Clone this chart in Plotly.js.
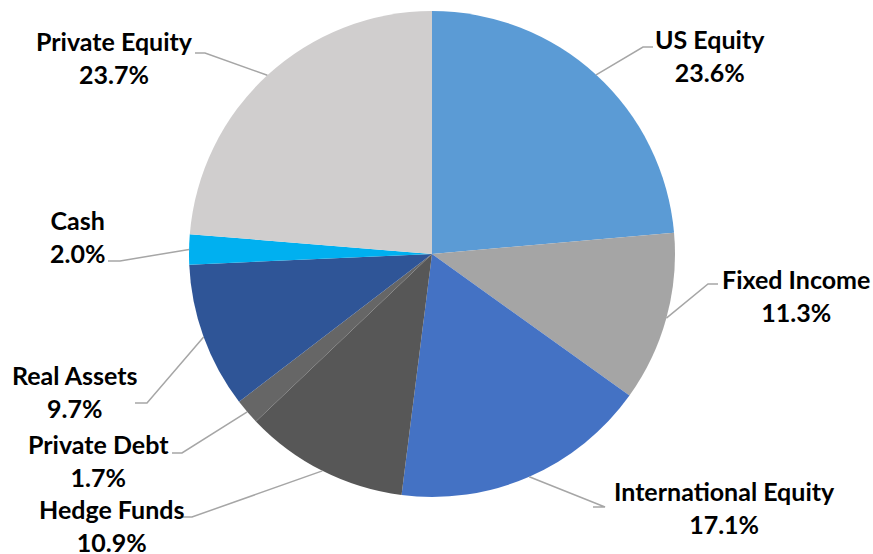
<!DOCTYPE html>
<html>
<head>
<meta charset="utf-8">
<script src="https://cdn.plot.ly/plotly-3.0.1.min.js"></script>
<style>html,body{margin:0;padding:0;background:#fff;}#chart{width:873px;height:554px;}</style>
</head>
<body>
<div id="chart"></div>
<script>
// ---- data ----
const categories = ["US Equity", "Fixed Income", "International Equity", "Hedge Funds",
                    "Private Debt", "Real Assets", "Cash", "Private Equity"];
const shares = [23.6, 11.3, 17.1, 10.9, 1.7, 9.7, 2.0, 23.7];

// ---- styles ----
const sliceColors = ["#5B9BD5", "#A5A5A5", "#4472C4", "#575757",
                     "#666666", "#2F5597", "#00B0F0", "#D0CECE"];

// ---- layout (pixels) ----
const W = 873, H = 554;
const pieBox = {x0: 189, x1: 675, y0: 11, y1: 497};
// label block centre and horizontal leader segment (elbow -> end)
const labelLayout = [
  {lx: 710, ly: 56,  hx0: 643, hx1: 653, hy: 47},
  {lx: 796, ly: 295, hx0: 708, hx1: 718, hy: 284},
  {lx: 724, ly: 507, hx0: 605, hx1: 593, hy: 507},
  {lx: 111, ly: 525, hx0: 192, hx1: 182, hy: 517},
  {lx: 98,  ly: 461, hx0: 182, hx1: 172, hy: 453},
  {lx: 75,  ly: 391, hx0: 147, hx1: 135, hy: 403},
  {lx: 77,  ly: 237, hx0: 120, hx1: 108, hy: 261},
  {lx: 114, ly: 57,  hx0: 205, hx1: 195, hy: 53}
];

const px = x => x / W;
const py = y => 1 - y / H;

const cx = (pieBox.x0 + pieBox.x1) / 2, cy = (pieBox.y0 + pieBox.y1) / 2;
const R = (pieBox.x1 - pieBox.x0) / 2;
const total = shares.reduce((a, b) => a + b, 0);

const annotations = [], shapes = [];
let cum = 0;
shares.forEach((v, i) => {
  const mid = (cum + v / 2) / total * 2 * Math.PI; // clockwise from 12 o'clock
  cum += v;
  const ax = cx + R * Math.sin(mid), ay = cy - R * Math.cos(mid);
  const L = labelLayout[i];
  shapes.push({
    type: 'path', xref: 'paper', yref: 'paper',
    path: `M ${px(ax)},${py(ay)} L ${px(L.hx0)},${py(L.hy)} L ${px(L.hx1)},${py(L.hy)}`,
    line: {color: '#A6A6A6', width: 1.5}
  });
  annotations.push({
    xref: 'paper', yref: 'paper', x: px(L.lx), y: py(L.ly),
    xanchor: 'center', yanchor: 'middle', showarrow: false, align: 'center',
    text: '<b>' + categories[i] + '<br>' + v.toFixed(1) + '%</b>',
    font: {family: 'Lato, Calibri, sans-serif', size: 25, color: '#000000'}
  });
});

const trace = {
  type: 'pie',
  labels: categories,
  values: shares,
  sort: false,
  direction: 'clockwise',
  rotation: 0,
  textinfo: 'none',
  hoverinfo: 'label+percent',
  showlegend: false,
  marker: {colors: sliceColors, line: {width: 0}},
  domain: {x: [px(pieBox.x0), px(pieBox.x1)], y: [py(pieBox.y1), py(pieBox.y0)]}
};

const layout = {
  width: W, height: H,
  margin: {l: 0, r: 0, t: 0, b: 0},
  paper_bgcolor: '#ffffff', plot_bgcolor: '#ffffff',
  annotations: annotations,
  shapes: shapes
};

Plotly.newPlot('chart', [trace], layout, {displayModeBar: false, staticPlot: true});
</script>
</body>
</html>
